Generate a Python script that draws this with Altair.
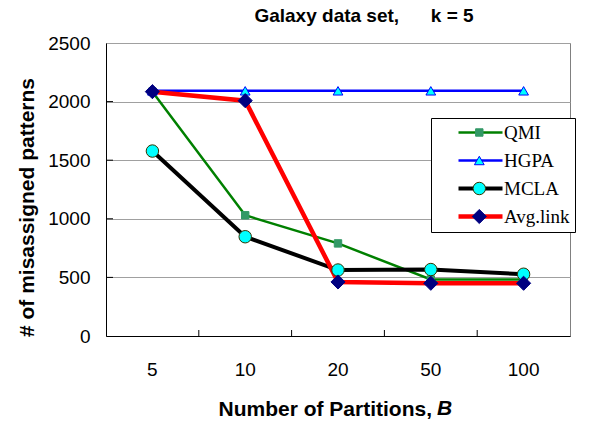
import altair as alt
import pandas as pd

partitions = ["5", "10", "20", "50", "100"]
methods = ["QMI", "HGPA", "MCLA", "Avg.link"]
qmi = [2085, 1030, 790, 482, 482]
hgpa = [2092, 2092, 2092, 2092, 2092]
mcla = [1578, 847, 563, 567, 527]
avglink = [2085, 2008, 461, 450, 450]
y_ticks = [0, 500, 1000, 1500, 2000, 2500]

line_colors = ["#008000", "#0000FF", "#000000", "#FF0000"]
line_widths = [2.5, 2.5, 4, 4.5]
marker_fill = ["#339966", "#00FFFF", "#00FFFF", "#000080"]
marker_stroke = ["#339966", "#0000FF", "#333300", "#000080"]
marker_shapes = ["square", "triangle-up", "circle", "diamond"]
marker_sizes = [55, 95, 155, 200]

series_values = [qmi, hgpa, mcla, avglink]
rows = []
for m, vals in zip(methods, series_values):
    for p, v in zip(partitions, vals):
        rows.append({"method": m, "series": m + " ", "B": p, "value": v})
df = pd.DataFrame(rows)
series_names = [m + " " for m in methods]

x_scale = alt.Scale(type="band", paddingInner=0, paddingOuter=0)
y_scale = alt.Scale(domain=[0, 2500], nice=False)
x_axis = alt.Axis(
    title="Number of Partitions,\u00a0", labelAngle=0, grid=False,
    ticks=False, tickSize=0, labelPadding=24, labelFontSize=19,
    labelColor="#000000", titleFontSize=21, titleFontWeight="bold",
    titleColor="#000000", titleAlign="left", titleX=112, titleY=79,
    titleBaseline="alphabetic", domainColor="#000000",
)
y_axis = alt.Axis(
    title="# of misassigned patterns", values=y_ticks,
    format="d",
    ticks=False, tickSize=0, labelPadding=16, labelFontSize=19,
    labelColor="#000000", titleFontSize=21, titleFontWeight="bold",
    titleColor="#000000", titlePadding=10, titleY=164,
    gridColor="#A0A0A0", gridWidth=1, domainColor="#000000",
)
x_enc = alt.X("B:N", sort=partitions, bandPosition=0.5, scale=x_scale, axis=x_axis)
y_enc = alt.Y("value:Q", scale=y_scale, axis=y_axis)

base = alt.Chart(df).encode(x=x_enc, y=y_enc)

line_legend = alt.Legend(
    title=None, orient="none", legendX=325, legendY=75,
    symbolType="M-4,0H4", symbolSize=121, symbolOffset=35,
    labelOffset=14, labelFont="Liberation Serif", labelFontSize=19,
    labelColor="#000000", rowPadding=8, padding=5,
    strokeColor="#000000", fillColor="#FFFFFF", zindex=1,
)
lines = base.mark_line().encode(
    color=alt.Color(
        "method:N", sort=methods,
        scale=alt.Scale(domain=methods, range=line_colors),
        legend=line_legend,
    ),
    strokeWidth=alt.StrokeWidth(
        "method:N", sort=methods,
        scale=alt.Scale(type="ordinal", domain=methods, range=line_widths),
        legend=line_legend,
    ),
)

pt_legend = alt.Legend(
    title=None, orient="none", legendX=363.8, legendY=80,
    labelFontSize=19, labelFont="Liberation Serif", labelExpr="''",
    rowPadding=8, padding=0, symbolStrokeWidth=1, zindex=2,
    symbolOpacity=1,
)
points = base.mark_point(opacity=1, strokeWidth=1).encode(
    fill=alt.Fill("series:N", sort=series_names,
                  scale=alt.Scale(domain=series_names, range=marker_fill), legend=pt_legend),
    stroke=alt.Stroke("series:N", sort=series_names,
                      scale=alt.Scale(domain=series_names, range=marker_stroke), legend=pt_legend),
    shape=alt.Shape("series:N", sort=series_names,
                    scale=alt.Scale(domain=series_names, range=marker_shapes), legend=pt_legend),
    size=alt.Size("series:N", sort=series_names,
                  scale=alt.Scale(type="ordinal", domain=series_names, range=marker_sizes),
                  legend=pt_legend),
)

# inward tick marks on the axes
xtick_df = pd.DataFrame({"B": partitions[1:]})
xticks = alt.Chart(xtick_df).mark_rule(color="#000000", strokeWidth=1).encode(
    x=alt.X("B:N", sort=partitions, bandPosition=0, scale=x_scale, axis=x_axis),
    y=alt.value(293), y2=alt.value(287),
)
ytick_df = pd.DataFrame({"value": y_ticks[1:-1]})
yticks = alt.Chart(ytick_df).mark_rule(color="#000000", strokeWidth=1).encode(
    y=alt.Y("value:Q", scale=y_scale, axis=y_axis),
    x=alt.value(0), x2=alt.value(7),
)

b_label = alt.Chart(pd.DataFrame({"t": ["B"]})).mark_text(
    font="Liberation Sans", fontSize=21, fontWeight="bold", fontStyle="italic",
    align="left", baseline="alphabetic", color="#000000",
).encode(text="t:N", x=alt.value(331), y=alt.value(372))

chart = alt.layer(lines, points, xticks, yticks, b_label).properties(
    width=464, height=293,
    title=alt.TitleParams(
        "Galaxy data set,\u00a0\u00a0\u00a0\u00a0\u00a0\u00a0k = 5",
        fontSize=19, fontWeight="bold", font="Liberation Sans", color="#000000",
        anchor="middle", frame="group", offset=8, dx=26,
    ),
    autosize=alt.AutoSizeParams(type="none"),
    padding={"left": 98, "top": 35, "right": 11, "bottom": 85},
).configure(
    font="Liberation Sans",
).configure_view(
    stroke="#808080", strokeWidth=1,
).configure_axis(
    labelFont="Liberation Sans", titleFont="Liberation Sans",
)

chart.save("out.html", embed_options={"renderer": "svg", "actions": False})
